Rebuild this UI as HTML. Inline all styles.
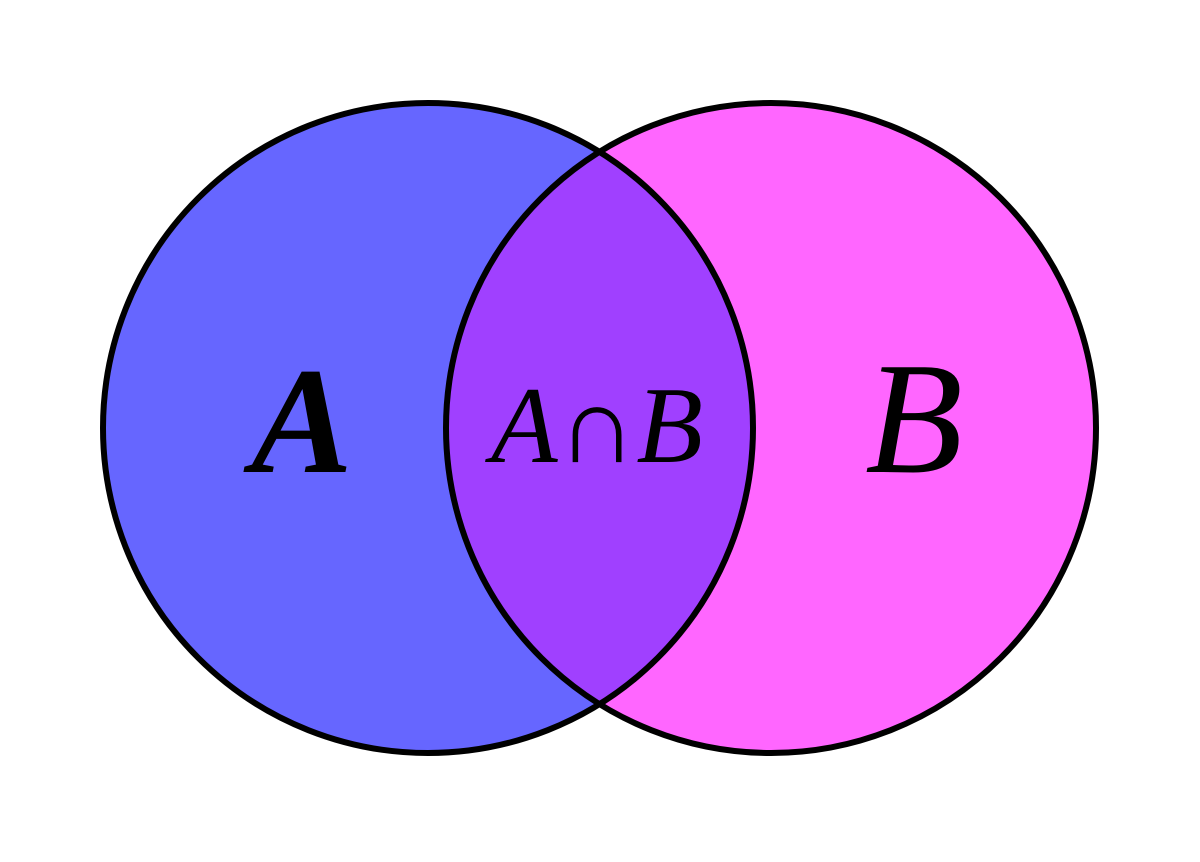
<!DOCTYPE html>
<html><head><meta charset="utf-8"><style>html,body{margin:0;padding:0;background:#fff}</style></head>
<body>
<svg width="1200" height="857" viewBox="0 0 1200 857" xmlns="http://www.w3.org/2000/svg">
<defs>
<clipPath id="cA"><circle cx="428" cy="428" r="325"/></clipPath>
</defs>
<circle cx="428" cy="428" r="325" fill="#6666ff"/>
<circle cx="771" cy="428" r="325" fill="#ff66ff"/>
<circle cx="771" cy="428" r="325" fill="#a040ff" clip-path="url(#cA)"/>
<circle cx="428" cy="428" r="325" fill="none" stroke="#000" stroke-width="6"/>
<circle cx="771" cy="428" r="325" fill="none" stroke="#000" stroke-width="6"/>
<text x="302" y="472" font-family="Liberation Serif, serif" font-size="152" font-style="italic" font-weight="bold" text-anchor="middle">A</text>
<text x="914" y="472" font-family="Liberation Serif, serif" font-size="160" font-style="italic" text-anchor="middle">B</text>
<text x="597" y="462" font-family="Liberation Serif, DejaVu Serif, serif" font-size="109" text-anchor="middle"><tspan font-style="italic">A</tspan>∩<tspan font-style="italic">B</tspan></text>
</svg>
</body></html>
